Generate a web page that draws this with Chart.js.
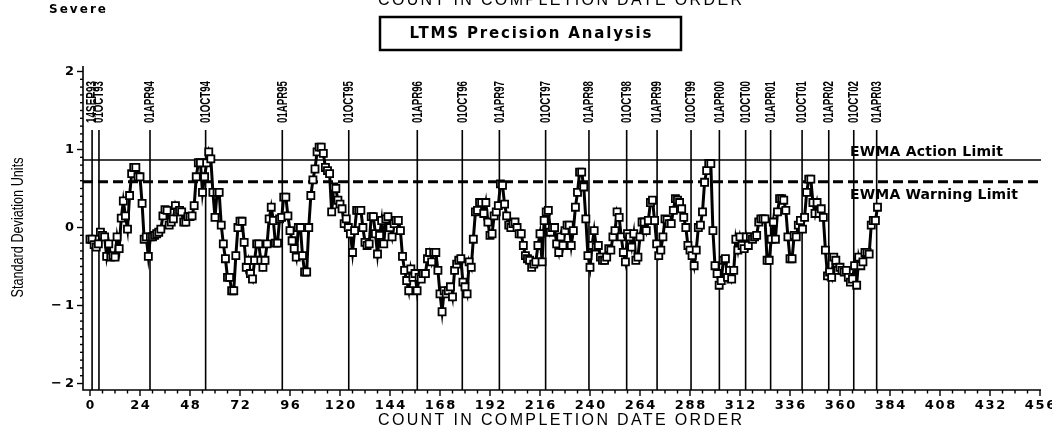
<!DOCTYPE html>
<html><head><meta charset="utf-8">
<script src="https://cdn.jsdelivr.net/npm/chart.js@4/dist/chart.umd.min.js"></script>
<style>html,body{margin:0;padding:0;background:#fff;overflow:hidden}#wrap{width:1052px;height:434px;position:relative}canvas{display:block}</style>
</head><body><div id="wrap"><canvas id="c" width="1052" height="434"></canvas></div>
<script>
// ---- data ----
const ewmaValues = [
 -0.15,-0.15,-0.22,-0.25,-0.21,-0.06,-0.10,-0.12,-0.37,-0.21,
 -0.38,-0.36,-0.38,-0.12,-0.27,0.12,0.34,0.15,-0.02,0.41,
 0.69,0.77,0.77,0.65,0.65,0.31,-0.15,-0.12,-0.37,-0.12,
 -0.12,-0.10,-0.08,-0.06,-0.02,0.15,0.23,0.22,0.03,0.07,
 0.11,0.28,0.20,0.22,0.20,0.07,0.07,0.14,0.14,0.15,
 0.28,0.65,0.83,0.83,0.45,0.65,0.83,0.97,0.88,0.45,
 0.13,0.45,0.45,0.03,-0.21,-0.40,-0.64,-0.64,-0.81,-0.81,
 -0.36,0.00,0.08,0.08,-0.19,-0.51,-0.42,-0.59,-0.66,-0.42,
 -0.21,-0.21,-0.42,-0.51,-0.42,-0.21,0.11,0.26,0.09,-0.20,
 -0.20,0.11,0.13,0.39,0.39,0.15,-0.04,-0.17,-0.27,-0.38,
 0.00,0.00,-0.36,-0.57,-0.57,0.00,0.41,0.61,0.75,0.97,
 1.03,1.03,0.95,0.77,0.73,0.69,0.20,0.52,0.50,0.35,
 0.30,0.24,0.05,0.11,0.00,-0.08,-0.32,-0.04,0.22,0.22,
 0.22,0.00,-0.19,-0.23,-0.21,0.14,0.14,-0.08,-0.34,-0.10,
 0.09,-0.21,0.11,0.14,0.00,-0.12,0.05,0.09,0.09,-0.04,
 -0.37,-0.55,-0.68,-0.81,-0.53,-0.64,-0.59,-0.81,-0.64,-0.66,
 -0.59,-0.59,-0.40,-0.32,-0.44,-0.32,-0.32,-0.55,-0.85,-1.08,
 -0.81,-0.85,-0.81,-0.76,-0.89,-0.55,-0.47,-0.42,-0.40,-0.70,
 -0.76,-0.85,-0.44,-0.51,-0.15,0.20,0.22,0.32,0.32,0.18,
 0.32,0.07,-0.10,-0.08,0.15,0.20,0.28,0.56,0.54,0.30,
 0.15,0.03,0.00,0.05,0.07,0.00,-0.08,-0.08,-0.23,-0.36,
 -0.40,-0.42,-0.51,-0.47,-0.44,-0.23,-0.08,-0.44,0.09,0.20,
 0.22,-0.06,0.00,0.00,-0.21,-0.32,-0.12,-0.23,-0.04,0.03,
 0.03,-0.23,-0.04,0.26,0.45,0.71,0.71,0.52,0.11,-0.36,
 -0.51,-0.23,-0.04,-0.25,-0.23,-0.38,-0.42,-0.42,-0.38,-0.27,
 -0.29,-0.12,-0.04,0.20,0.13,-0.12,-0.32,-0.44,-0.08,-0.12,
 -0.25,-0.08,-0.42,-0.38,-0.12,0.07,0.07,-0.04,0.09,0.32,
 0.35,0.09,-0.21,-0.36,-0.29,-0.12,0.11,0.10,0.05,0.05,
 0.22,0.37,0.35,0.32,0.24,0.13,0.00,-0.23,-0.29,-0.36,
 -0.49,-0.29,0.00,0.03,0.20,0.58,0.73,0.82,0.82,-0.04,
 -0.49,-0.59,-0.74,-0.68,-0.42,-0.40,-0.64,-0.55,-0.66,-0.55,
 -0.15,-0.29,-0.12,-0.23,-0.27,-0.12,-0.23,-0.12,-0.15,-0.12,
 -0.10,0.07,0.11,0.11,0.11,-0.42,-0.42,-0.15,0.07,-0.15,
 0.20,0.37,0.37,0.35,0.22,-0.12,-0.40,-0.40,-0.10,-0.12,
 0.03,0.09,-0.02,0.13,0.45,0.62,0.62,0.32,0.18,0.32,
 0.18,0.24,0.13,-0.29,-0.62,-0.57,-0.64,-0.38,-0.42,-0.55,
 -0.51,-0.55,-0.57,-0.55,-0.64,-0.70,-0.66,-0.49,-0.74,-0.38,
 -0.49,-0.44,-0.32,-0.32,-0.34,0.03,0.09,0.09,0.26
];
const refLabels = ['14SEP93','01OCT93','01APR94','01OCT94','01APR95','01OCT95','01APR96','01OCT96','01APR97','01OCT97','01APR98','01OCT98','01APR99','01OCT99','01APR00','01OCT00','01APR01','01OCT01','01APR02','01OCT02','01APR03'];
const refCounts = [1.0,4.3,28.8,55.5,92.3,124.2,157.1,178.7,196.5,218.7,239.5,257.6,272.2,288.5,302.1,314.7,326.7,341.8,354.6,366.6,377.6];
const xTickValues = [0,24,48,72,96,120,144,168,192,216,240,264,288,312,336,360,384,408,432,456];
const yTickValues = [-2,-1,0,1,2];
const actionLimit = 0.865;
const warningLimit = 0.587;
const actionLabel = 'EWMA Action Limit';
const warningLabel = 'EWMA Warning Limit';
const titleText = 'LTMS Precision Analysis';
const xTitle = 'COUNT IN COMPLETION DATE ORDER';
const yTitle = 'Standard Deviation Units';
const cornerText = 'Severe';

const points = ewmaValues.map((v, i) => ({x: i, y: v}));

const SASFONT = '"DejaVu Sans", sans-serif';
const SANS = '"Liberation Sans", Arial, sans-serif';

function fitText(ctx, txt, x, y, w, align) {
  ctx.save();
  ctx.letterSpacing = '0px';
  const nat = ctx.measureText(txt).width;
  const left = align === 'center' ? x - w / 2 : (align === 'right' ? x - w : x);
  ctx.textAlign = 'left';
  if (w >= nat) {
    const ls = txt.length > 1 ? (w - nat) / (txt.length - 1) : 0;
    ctx.letterSpacing = ls + 'px';
    ctx.fillText(txt, left, y);
  } else {
    ctx.translate(left, y);
    ctx.scale(w / nat, 1);
    ctx.fillText(txt, 0, 0);
  }
  ctx.restore();
}

const decor = {
  id: 'decor',
  beforeDatasetsDraw(chart) {
    const ctx = chart.ctx, xs = chart.scales.x, ys = chart.scales.y, a = chart.chartArea;
    ctx.save();
    ctx.strokeStyle = '#000';
    ctx.lineWidth = 1.6;
    refCounts.forEach(c => {
      const px = xs.getPixelForValue(c);
      ctx.beginPath(); ctx.moveTo(px, 130); ctx.lineTo(px, a.bottom); ctx.stroke();
    });
    let py = ys.getPixelForValue(actionLimit);
    ctx.lineWidth = 1.6;
    ctx.beginPath(); ctx.moveTo(a.left, py); ctx.lineTo(a.right, py); ctx.stroke();
    py = ys.getPixelForValue(warningLimit);
    ctx.lineWidth = 3;
    ctx.setLineDash([10, 5]);
    ctx.beginPath(); ctx.moveTo(a.left, py); ctx.lineTo(a.right, py); ctx.stroke();
    ctx.setLineDash([]);
    ctx.restore();
  },
  afterDraw(chart) {
    const ctx = chart.ctx, xs = chart.scales.x, ys = chart.scales.y, a = chart.chartArea;
    ctx.save();
    ctx.strokeStyle = '#000'; ctx.fillStyle = '#000';
    ctx.lineWidth = 1.6;
    ctx.beginPath(); ctx.moveTo(a.left, a.top); ctx.lineTo(a.left, a.bottom); ctx.lineTo(a.right, a.bottom); ctx.stroke();
    ctx.lineWidth = 1.4;
    for (let v = 0; v <= 456; v += 6) {
      const px = xs.getPixelForValue(v);
      const len = (v % 24 === 0) ? 6 : 3.5;
      ctx.beginPath(); ctx.moveTo(px, a.bottom); ctx.lineTo(px, a.bottom + len); ctx.stroke();
    }
    for (let k = -20; k <= 20; k++) {
      const v = k / 10;
      const py = ys.getPixelForValue(v);
      const len = (k % 10 === 0) ? 6 : 3;
      ctx.beginPath(); ctx.moveTo(a.left, py); ctx.lineTo(a.left - len, py); ctx.stroke();
    }
    // x tick labels
    ctx.font = 'bold 13px ' + SASFONT;
    ctx.textBaseline = 'middle';
    xTickValues.forEach(v => {
      const s = String(v);
      fitText(ctx, s, xs.getPixelForValue(v), 406, s.length * 11 - 2.5, 'center');
    });
    yTickValues.forEach(v => {
      const s = v < 0 ? '\u2212' + Math.abs(v) : String(v);
      fitText(ctx, s, 74, ys.getPixelForValue(v), v < 0 ? 23 : 9, 'right');
    });
    // limit labels
    ctx.font = 'bold 14px ' + SASFONT;
    fitText(ctx, actionLabel, 850, 152, 153, 'left');
    fitText(ctx, warningLabel, 850, 195, 168, 'left');
    // date labels (rotated)
    ctx.font = 'bold 14px ' + SANS;
    refCounts.forEach((c, i) => {
      const px = xs.getPixelForValue(c);
      ctx.save();
      ctx.translate(px, 123);
      ctx.rotate(-Math.PI / 2);
      ctx.textBaseline = 'middle';
      fitText(ctx, refLabels[i], 0, 0.5, 42, 'left');
      ctx.restore();
    });
    // axis titles
    ctx.font = '16px ' + SANS;
    ctx.textBaseline = 'middle';
    fitText(ctx, xTitle, 560, 421, 364, 'center');
    ctx.textBaseline = 'alphabetic';
    fitText(ctx, xTitle, 560, 4.5, 364, 'center');
    ctx.save();
    ctx.translate(19, 227.5);
    ctx.rotate(-Math.PI / 2);
    ctx.font = '16px ' + SANS;
    ctx.textBaseline = 'middle';
    fitText(ctx, yTitle, 0, 0, 140, 'center');
    ctx.restore();
    // corner text
    ctx.font = 'bold 12px ' + SASFONT;
    ctx.textBaseline = 'middle';
    fitText(ctx, cornerText, 49, 10, 57, 'left');
    // title box
    ctx.lineWidth = 2.5;
    ctx.strokeRect(380, 17, 301, 33);
    ctx.font = 'bold 15px ' + SASFONT;
    fitText(ctx, titleText, 530.5, 34, 242, 'center');
    ctx.restore();
  }
};

new Chart(document.getElementById('c'), {
  type: 'line',
  data: {
    datasets: [{
      data: points,
      borderColor: '#000',
      borderWidth: 3,
      pointStyle: 'rect',
      pointRadius: 5,
      pointBorderWidth: 1.8,
      pointBorderColor: '#000',
      pointBackgroundColor: '#fff',
      tension: 0,
      clip: false
    }]
  },
  options: {
    responsive: false,
    animation: false,
    devicePixelRatio: 1,
    layout: {padding: {left: 83, right: 11, top: 66, bottom: 44}},
    scales: {
      x: {type: 'linear', min: -3.36, max: 456.48, display: false},
      y: {type: 'linear', min: -2.083, max: 2.0705, display: false}
    },
    plugins: {legend: {display: false}, tooltip: {enabled: false}}
  },
  plugins: [decor]
});
</script>
</body></html>
